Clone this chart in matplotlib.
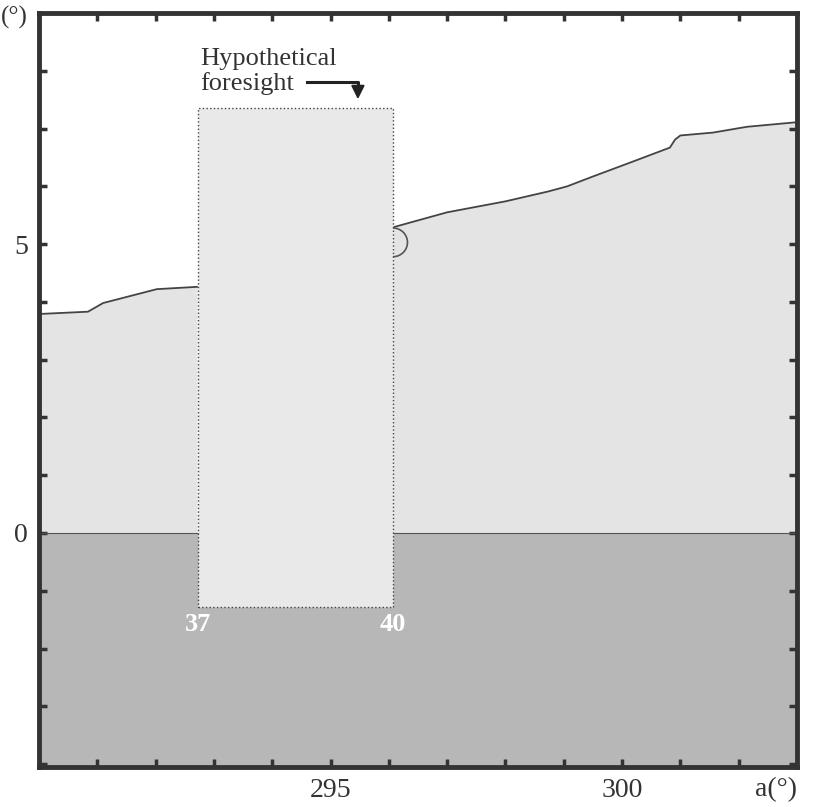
import matplotlib
matplotlib.use("Agg")
import matplotlib.pyplot as plt
from matplotlib.patches import Rectangle, Arc

# horizon profile, left and right of the foresight window (azimuth, altitude in degrees)
az_left = [290.0, 290.84, 291.10, 292.02, 292.71]
alt_left = [3.79, 3.83, 3.98, 4.22, 4.26]
az_right = [296.07, 297.0, 298.0, 298.73, 299.06, 299.5, 300.19, 300.82, 300.91, 301.0, 301.56, 302.14, 303.0]
alt_right = [5.29, 5.55, 5.74, 5.91, 6.0, 6.17, 6.43, 6.67, 6.81, 6.88, 6.93, 7.03, 7.11]

# foresight window
win_az = [292.73, 296.07]
win_alt = [-1.28, 7.36]
win_labels = ["37", "40"]

# sun disk at the foresight edge
sun_az, sun_alt, sun_r = 296.07, 5.03, 0.25

x_ticks = list(range(291, 303))
y_ticks = list(range(-4, 9))
x_labeled = [295, 300]
y_labeled = [0, 5]

plt.rcParams['font.family'] = ['Liberation Serif', 'DejaVu Serif']

fig = plt.figure(figsize=(8.17, 8.07), dpi=100)
ax = fig.add_axes([0.0477, 0.0496, 0.9278, 0.9343])
ax.set_xlim(290, 303)
ax.set_ylim(-4.05, 9.0)

# ground below the mathematical horizon
ax.axhspan(-4.05, 0, color='#b7b7b7', lw=0, zorder=1)
ax.axhline(0, color='#555555', lw=0.8, zorder=2)

# land above 0 under the horizon line
ax.fill_between(az_left, alt_left, 0, color='#e4e4e4', lw=0, zorder=1)
ax.fill_between(az_right, alt_right, 0, color='#e4e4e4', lw=0, zorder=1)
ax.plot(az_left, alt_left, color='#444444', lw=1.3, zorder=2)
ax.plot(az_right, alt_right, color='#444444', lw=1.3, zorder=2)

# the window rectangle
rect = Rectangle((win_az[0], win_alt[0]), win_az[1] - win_az[0], win_alt[1] - win_alt[0],
                 facecolor='#e9e9e9', edgecolor='#444444', lw=1.0, ls=':', zorder=3)
ax.add_patch(rect)

ax.add_patch(Arc((sun_az, sun_alt), 2 * sun_r, 2 * sun_r * 58 / 58.3, theta1=-90, theta2=90,
                 color='#555555', lw=1.2, zorder=4))

for xa, lab in zip(win_az, win_labels):
    ax.text(xa, win_alt[0] - 0.3, lab, color='white', fontweight='bold', fontsize=19,
            ha='center', va='center', zorder=5)

# annotation
ax.text(292.76, 8.10, "Hypothetical", fontsize=19, color='#333333', ha='left', va='baseline')
ax.text(292.76, 7.66, "foresight", fontsize=19, color='#333333', ha='left', va='baseline')
ax.plot([294.6, 295.47, 295.47], [7.81, 7.81, 7.62], color='#222222', lw=2.2)
ax.annotate("", xy=(295.47, 7.46), xytext=(295.47, 7.65),
            arrowprops=dict(arrowstyle='-|>', color='#222222', lw=1.5, mutation_scale=20))

# ticks
ax.set_xticks(x_ticks)
ax.set_yticks(y_ticks)
ax.set_xticklabels([str(t) if t in x_labeled else "" for t in x_ticks])
ax.set_yticklabels([str(t) if t in y_labeled else "" for t in y_ticks])
ax.tick_params(direction='in', length=6, width=2.5, color='#333333', top=True, right=True,
               labelsize=20, labelcolor='#333333', pad=8)
for s in ax.spines.values():
    s.set_linewidth(3.5)
    s.set_color('#333333')
    s.set_zorder(6)

fig.text(0.975, 0.021, "a(°)", fontsize=20, color='#333333', ha='right', va='center')
fig.text(0.001, 0.978, "(°)", fontsize=18, color='#333333', ha='left', va='center')

fig.savefig("out.png", dpi=100)
